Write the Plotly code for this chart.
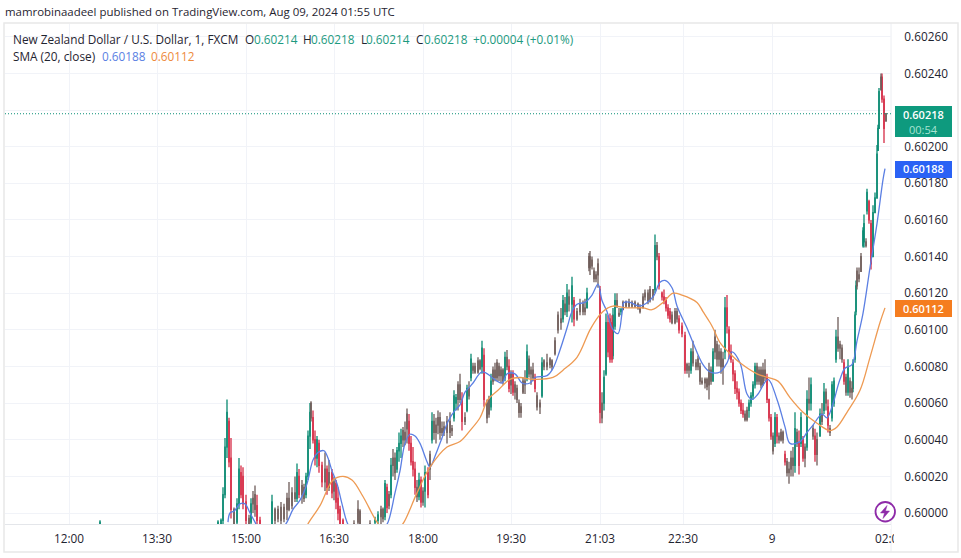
import plotly.graph_objects as go

W, H = 961, 558
L_PX, R_PX, T_PX, B_PX = 5, 891, 24, 524

# Bar slots (about one per minute) and prices, in 1e-5 above 0.60000
bars = [100,218,221,223,225,227,229,231,234,237,
        239,241,243,246,249,251,253,255,257,260,
        264,268,272,275,278,281,284,287,289,292,
        295,297,299,302,304,306,308,310,311,313,
        315,317,319,322,325,327,329,332,334,336,
        338,340,343,350,354,358,360,365,370,375,
        378,381,383,385,387,389,391,393,395,397,
        399,401,403,405,407,409,411,413,415,417,
        419,421,423,425,428,430,432,434,436,438,
        440,442,444,447,450,452,454,456,458,460,
        462,465,467,469,471,473,475,478,480,482,
        484,487,489,491,493,495,497,499,501,503,
        505,507,509,511,513,515,517,519,521,523,
        525,527,529,531,533,535,537,540,542,544,
        547,550,552,555,558,561,563,565,567,569,
        572,574,577,580,583,585,587,589,590,592,
        594,596,598,600,602,604,606,608,610,612,
        613,615,617,619,621,623,626,629,632,635,
        638,640,643,645,648,650,653,655,657,659,
        662,664,666,668,670,672,675,677,679,682,
        685,687,689,691,693,696,698,700,702,705,
        707,709,711,713,715,717,719,721,723,725,
        727,729,731,733,735,737,739,741,743,745,
        747,749,751,753,755,757,759,761,763,765,
        767,769,771,773,775,777,779,781,783,785,
        787,789,791,793,795,797,799,801,803,805,
        807,809,811,813,815,817,820,822,824,826,
        828,830,832,834,836,838,840,842,844,846,
        848,850,852,853,855,856,857,859,861,863,
        864,866,867,869,871,873,875,877,878,879,
        881,882,884,886]

highs = [-4,-4,-3,14,41,62,52,41,3,8,
         30,26,25,10,-1,8,12,15,10,-2,
         -9,-6,10,3,4,6,5,11,17,14,
         20,27,24,18,16,22,45,60,61,56,
         45,42,40,28,33,26,29,24,20,18,
         14,4,-3,-8,-4,7,2,-6,-4,-2,
         1,4,3,18,16,12,30,35,33,36,
         44,46,47,50,57,54,42,36,28,18,
         22,20,14,26,25,34,55,54,52,56,
         55,50,50,53,55,48,67,65,72,76,
         66,55,70,72,87,82,82,85,84,94,
         90,62,64,76,80,82,84,82,80,79,
         88,89,84,78,78,72,70,62,60,74,
         78,92,86,80,82,76,66,62,85,84,
         87,85,84,96,110,112,119,118,125,122,
         129,118,112,117,116,117,123,142,143,140,
         134,132,139,124,66,78,109,108,109,108,
         112,120,120,112,112,116,116,117,116,116,
         115,114,120,122,122,124,122,152,148,142,
         121,122,118,114,112,110,112,112,108,104,
         99,82,82,90,94,84,86,82,74,74,
         74,82,80,90,100,94,92,90,88,118,
         119,102,92,84,78,72,68,62,60,56,
         58,62,66,72,82,82,80,80,82,84,
         76,62,54,44,55,54,44,46,45,34,
         30,28,34,36,55,46,45,55,42,38,
         67,74,74,48,46,44,57,60,71,68,
         62,48,72,74,100,107,94,92,84,76,
         84,74,72,84,110,127,134,134,142,156,
         163,150,177,171,160,168,175,201,212,232,
         240,240,228,218]

lows = [-8,-8,-10,-6,8,30,25,-3,-8,-6,
        2,8,2,-6,-10,-8,0,-2,-6,-12,
        -15,-14,-8,-6,-5,-6,-5,-4,1,2,
        6,6,8,5,6,8,18,35,50,38,
        26,25,22,14,12,10,12,8,7,2,
        -4,-8,-12,-14,-12,-6,-8,-14,-12,-10,
        -8,-6,-5,-4,0,2,8,20,18,22,
        28,30,36,37,38,34,26,20,10,6,
        7,3,4,3,8,18,38,40,38,43,
        40,42,42,38,41,42,50,56,56,60,
        45,48,55,62,72,76,76,76,78,76,
        58,49,52,56,70,72,72,72,71,70,
        72,78,66,65,64,62,60,52,52,65,
        65,72,74,70,72,66,56,54,63,78,
        78,79,78,86,98,100,104,108,107,110,
        104,102,105,108,108,108,112,132,130,133,
        126,126,123,49,49,56,75,85,82,82,
        84,100,112,107,108,111,112,112,112,112,
        111,109,112,116,114,115,116,120,138,122,
        116,114,110,106,104,103,103,104,98,96,
        76,76,74,76,80,78,78,70,70,68,
        67,62,70,72,84,80,80,76,70,84,
        98,84,82,72,65,62,58,54,52,50,
        50,52,58,62,68,70,70,68,70,72,
        60,50,40,32,36,38,38,39,38,26,
        20,16,20,20,22,36,21,36,28,25,
        34,56,56,40,28,26,42,48,54,56,
        44,42,50,58,82,88,84,82,70,64,
        64,63,62,66,82,108,122,126,132,145,
        145,145,163,158,133,140,164,172,198,210,
        231,224,202,214]

opens = [-6,-7,-8,-4,10,36,50,30,2,-5,
         5,22,20,6,-3,-5,5,10,4,-4,
         -10,-12,-6,2,-3,3,-3,2,8,4,
         11,8,20,10,14,10,20,42,60,52,
         40,30,38,26,17,24,14,22,12,16,
         8,2,-4,-10,-10,-5,1,-8,-10,-5,
         -4,-2,2,-2,14,4,10,26,30,24,
         34,38,40,44,46,50,38,28,24,14,
         9,18,6,12,22,24,40,50,44,48,
         52,44,47,44,50,45,52,60,62,70,
         62,50,56,68,74,78,80,77,83,80,
         86,60,54,58,72,78,74,80,75,78,
         74,85,80,70,76,66,68,60,55,66,
         72,74,84,76,78,74,64,58,64,80,
         82,81,83,87,100,106,106,114,110,118,
         114,116,106,110,114,110,112,134,140,135,
         132,128,130,122,52,60,76,104,106,104,
         86,102,116,108,110,111,115,113,115,113,
         114,112,112,118,120,116,122,122,146,140,
         120,118,116,112,110,108,104,110,106,102,
         97,78,80,78,88,82,80,80,72,71,
         73,70,78,72,88,92,84,88,80,88,
         112,100,88,82,76,68,66,60,56,54,
         51,56,60,64,70,80,72,78,70,78,
         74,62,52,42,38,52,42,40,44,32,
         28,22,24,30,26,44,38,38,40,30,
         36,62,60,46,42,32,42,54,56,66,
         58,46,52,60,84,96,90,90,82,74,
         66,72,66,68,84,110,124,130,132,146,
         148,148,165,170,158,140,164,172,198,210,
         231,238,226,214]

closes = [-5,-5,-4,10,36,55,28,2,-6,5,
          24,10,5,-4,-8,5,8,2,-4,-10,
          -12,-8,6,-4,2,-4,3,8,2,11,
          8,22,10,15,8,20,42,55,52,40,
          30,40,26,17,24,14,22,11,17,6,
          0,-6,-10,-12,-6,2,-6,-12,-6,-4,
          -1,2,-3,16,3,10,26,30,22,34,
          38,42,45,40,54,38,28,24,14,9,
          18,6,12,22,10,32,50,44,48,52,
          44,46,44,50,44,46,64,63,70,62,
          50,52,68,64,84,80,77,83,79,90,
          62,52,62,72,78,74,82,75,78,72,
          85,80,68,76,66,70,62,55,58,72,
          70,88,76,78,74,68,58,60,82,83,
          80,84,80,94,108,104,116,110,120,114,
          124,106,110,114,110,112,120,140,134,138,
          128,130,136,55,60,74,104,88,84,84,
          108,116,113,109,111,115,113,115,113,115,
          112,110,118,120,116,122,118,146,140,124,
          118,116,112,108,106,104,110,106,100,98,
          78,81,78,88,82,80,84,72,71,73,
          69,78,72,88,96,84,88,80,84,112,
          102,88,84,76,68,66,60,56,54,51,
          56,60,64,70,80,72,78,70,78,74,
          62,52,42,34,52,42,40,44,40,28,
          22,24,30,26,46,38,26,52,30,36,
          62,60,70,42,32,40,54,50,66,60,
          48,44,70,72,96,90,92,84,72,66,
          80,66,68,82,108,124,132,128,140,154,
          158,146,175,160,136,164,172,196,210,230,
          238,226,210,218]

sma_fast_bars = [228,230,234,240,245,250,255,262,272,280,287,293,300,307,313,318,324,328,332,337,342,347,355,365,375,382,388,395,400,405,410,415,420,427,430,435,442,448,455,460,465,470,473,482,490,492,502,507,515,522,530,535,547,553,560,567,572,577,585,592,598,602,607,612,618,622,624,630,640,653,660,665,672,677,687,693,703,710,720,727,732,740,747,752,758,768,777,785,790,800,807,813,822,827,832,840,845,852,857,863,870,877,883,885]
sma_fast = [-5,0,1,5,5,0,-5,-12,-14,-10,-5,2,7,16,29,33,34,30,23,16,5,-5,-13,-16,-14,-10,-5,11,23,38,43,42,38,28,25,31,41,50,56,59,66,69,71,77,75,74,71,76,76,71,71,74,75,79,89,101,110,114,115,119,125,116,110,101,98,109,115,115,113,118,126,127,123,113,101,93,81,77,77,82,88,82,65,62,65,73,62,47,38,39,44,48,54,52,58,73,79,81,94,109,134,158,182,188]

sma_slow_bars = [300,305,309,320,333,343,352,363,377,385,392,398,404,417,430,447,460,470,480,488,498,510,520,533,553,563,577,590,598,603,608,613,627,643,652,663,673,682,697,703,710,713,720,730,740,757,768,778,790,803,817,830,837,847,860,870,880,885]
sma_slow = [-15,-9,-5,4,18,20,18,9,-5,-10,-12,-9,-5,11,25,36,39,45,52,62,67,73,74,73,74,78,85,100,107,110,112,113,112,112,111,115,120,119,115,110,104,101,93,87,82,76,74,72,63,55,49,45,47,55,67,85,104,112]

time_tick_bars = [69,157,246,334,423,511,600,683,772,890]
time_tick_text = ["12:00","13:30","15:00","16:30","18:00","19:30","21:03","22:30","9","02:00"]
price_ticks = [0.60000,0.60020,0.60040,0.60060,0.60080,0.60100,0.60120,0.60140,0.60160,0.60180,0.60200,0.60220,0.60240,0.60260]
price_tick_text = ["0.60000","0.60020","0.60040","0.60060","0.60080","0.60100","0.60120","0.60140","0.60160","0.60180","0.60200","","0.60240","0.60260"]

def price(vals):
    return [0.6 + v / 1e5 for v in vals]

GREEN, RED, MIX = "#0a8a72", "#d62c46", "#6e5c59"
BLUE, ORANGE = "#5b7fe3", "#ee9a52"
TEXT = "#1f2430"
FONT = "Open Sans"

assert len({len(bars), len(highs), len(lows), len(opens), len(closes)}) == 1, \
    (len(bars), len(highs), len(lows), len(opens), len(closes))

# Neighbouring one-pixel candles of opposite direction blend together on screen
groups = {GREEN: [], RED: [], MIX: []}
n = len(bars)
for i in range(n):
    d = closes[i] - opens[i]
    prev_d = closes[i-1] - opens[i-1] if i else d
    next_d = closes[i+1] - opens[i+1] if i < n-1 else d
    chop = (d * prev_d < 0 or d * next_d < 0) and abs(d) < 9
    groups[MIX if chop else (GREEN if d >= 0 else RED)].append(i)

fig = go.Figure()
for colour, idx in groups.items():
    fig.add_trace(go.Candlestick(
        x=[bars[i] for i in idx],
        open=price([opens[i] for i in idx]),
        high=price([highs[i] for i in idx]),
        low=price([lows[i] for i in idx]),
        close=price([closes[i] for i in idx]),
        increasing=dict(line=dict(color=colour, width=1.3), fillcolor=colour),
        decreasing=dict(line=dict(color=colour, width=1.3), fillcolor=colour),
        whiskerwidth=0, showlegend=False, hoverinfo="skip"))
fig.add_trace(go.Scatter(x=sma_fast_bars, y=price(sma_fast), mode="lines",
                         line=dict(color=BLUE, width=1.3, shape="spline", smoothing=1.0),
                         showlegend=False, hoverinfo="skip"))
fig.add_trace(go.Scatter(x=sma_slow_bars, y=price(sma_slow), mode="lines",
                         line=dict(color=ORANGE, width=1.3, shape="spline", smoothing=1.0),
                         showlegend=False, hoverinfo="skip"))

def fx(px):
    return (px - L_PX) / (R_PX - L_PX)
def fy(py):
    return (B_PX - py) / (B_PX - T_PX)

shapes = []
def rect(x0, y0, x1, y1, fill, line="rgba(0,0,0,0)", lw=0):
    shapes.append(dict(type="rect", xref="paper", yref="paper", layer="above",
                       x0=fx(x0), x1=fx(x1), y0=fy(y0), y1=fy(y1),
                       fillcolor=fill, line=dict(color=line, width=lw)))

# hides the end of the clipped last time label
rect(894, 526, 957, 550, "white")
# outer frame
shapes.append(dict(type="rect", xref="paper", yref="paper", layer="above",
                   x0=fx(4), x1=fx(958), y0=fy(552), y1=fy(23),
                   line=dict(color="#e8e8e8", width=1.5)))
# price axis separator
shapes.append(dict(type="line", xref="paper", yref="paper", layer="below",
                   x0=fx(891), x1=fx(891), y0=fy(552), y1=fy(23),
                   line=dict(color="#eceef2", width=1)))
# last price line
shapes.append(dict(type="line", xref="paper", yref="y", layer="above",
                   x0=0, x1=1, y0=0.6 + closes[-1]/1e5, y1=0.6 + closes[-1]/1e5,
                   line=dict(color="#0b8f78", width=1, dash="1px,2px")))
# price label boxes
rect(895, 106, 952, 137, "#0e9a7e")
rect(895, 161, 952, 178, "#2a62f5")
rect(895, 300, 952, 317, "#f57d1f")
# icon
shapes.append(dict(type="circle", xref="paper", yref="paper", layer="above",
                   x0=fx(875.5), x1=fx(895), y0=fy(521.5), y1=fy(502),
                   fillcolor="white", line=dict(color="#8e2aa8", width=1.8)))
bolt = [(887,505.5),(880.5,513),(884.5,513),(883,518.5),(889.5,511),(885.5,511)]
path = "M" + " L".join(f"{fx(a):.5f},{fy(b):.5f}" for a, b in bolt) + " Z"
shapes.append(dict(type="path", xref="paper", yref="paper", layer="above", path=path,
                   fillcolor="#8e2aa8", line=dict(color="#8e2aa8", width=0.5)))

annotations = []
def label(px, py, text, colour=TEXT, size=11.8, anchor="left", weight=None):
    f = dict(family=FONT, size=size, color=colour)
    if weight:
        f["weight"] = weight
    annotations.append(dict(xref="paper", yref="paper", x=fx(px), y=fy(py), text=text,
                            showarrow=False, xanchor=anchor, yanchor="middle", font=f,
                            borderpad=0, borderwidth=0))

G = "#1d9a80"
label(5, 12, "mamrobinaadeel published on TradingView.com, Aug 09, 2024 01:55 UTC", TEXT, 11.45)
label(13, 39, "New Zealand Dollar / U.S. Dollar, 1, FXCM")
label(245, 39, "O"); label(254, 39, "0.60214", G)
label(303, 39, "H"); label(311, 39, "0.60218", G)
label(361, 39, "L"); label(366, 39, "0.60214", G)
label(416, 39, "C"); label(424, 39, "0.60218", G)
label(473, 39, "+0.00004 (+0.01%)", G)
label(13, 56, "SMA (20, close)")
label(102, 56, "0.60188", BLUE)
label(151, 56, "0.60112", "#ee8a3c")
label(923.5, 114, "0.60218", "white", 11, "center", 600)
label(923.5, 129.5, "00:54", "#a8e3d2", 11, "center")
label(923.5, 168.5, "0.60188", "white", 11, "center", 600)
label(923.5, 308.5, "0.60112", "white", 11, "center", 600)

fig.update_layout(
    width=W, height=H, autosize=False,
    margin=dict(l=L_PX, r=W-R_PX, t=T_PX, b=H-B_PX),
    paper_bgcolor="white", plot_bgcolor="white",
    font=dict(family=FONT, size=11.8, color=TEXT),
    shapes=shapes, annotations=annotations,
    dragmode=False,
    xaxis=dict(range=[L_PX, R_PX], tickmode="array", tickvals=time_tick_bars, ticktext=time_tick_text,
               showgrid=True, gridcolor="#f1f3f8", gridwidth=1, zeroline=False,
               showline=True, linecolor="#e4e6ea", linewidth=1,
               ticks="outside", ticklen=4, tickcolor="white", tickangle=0,
               rangeslider=dict(visible=False), fixedrange=True),
    yaxis=dict(range=[0.59994, 0.60267], side="right", tickmode="array", tickvals=price_ticks, ticktext=price_tick_text,
               showgrid=True, gridcolor="#f1f3f8", gridwidth=1, zeroline=False,
               showline=False, ticks="outside", ticklen=10, tickcolor="white", fixedrange=True),
)
fig.write_html("out.html", config=dict(displayModeBar=False),
               post_script="document.body.style.margin='0';document.body.style.overflow='hidden';")
